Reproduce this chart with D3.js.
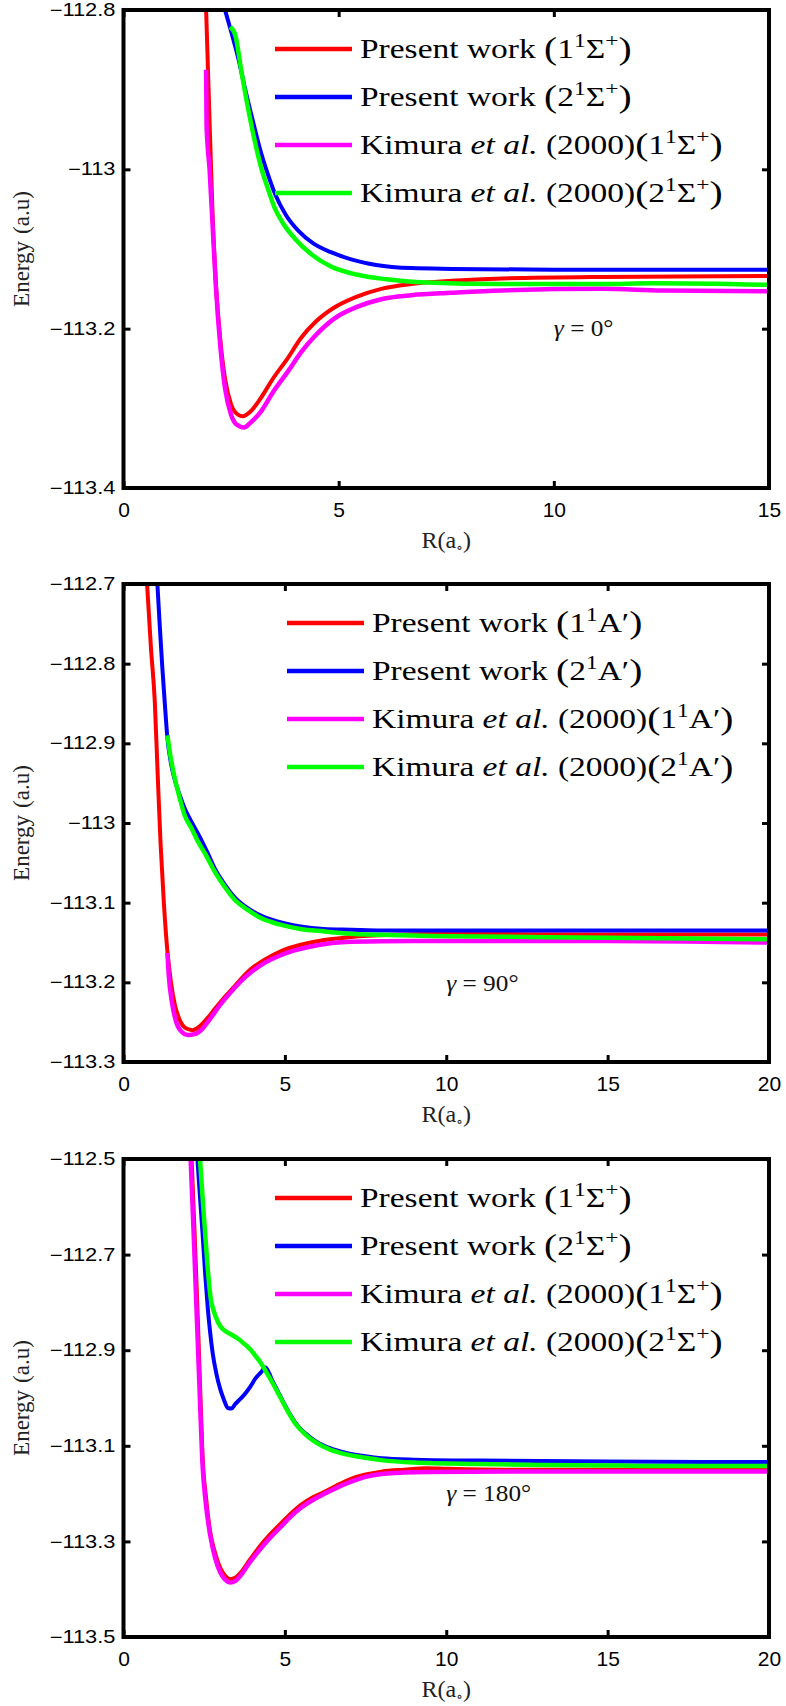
<!DOCTYPE html>
<html>
<head>
<meta charset="utf-8">
<script src="https://cdn.jsdelivr.net/npm/d3@7"></script>
<style>
  html, body { margin: 0; padding: 0; background: #fff; }
  svg { display: block; }
  .serif { font-family: "Liberation Serif", "Times New Roman", "DejaVu Serif", serif; }
  .sans { font-family: "Liberation Sans", Arial, "DejaVu Sans", sans-serif; }
</style>
</head>
<body>
<svg id="chart" width="786" height="1706"></svg>
<script>
// ---------- potential energy curves, [R (a.u.), E (a.u.)] ----------
// gamma = 0 deg
const g0Present1 = [[1.92,-112.80],[1.99,-112.922],[2.07,-113.057],[2.15,-113.146],[2.25,-113.214],[2.36,-113.263],[2.50,-113.295],[2.66,-113.308],[2.77,-113.310],[2.95,-113.304],[3.18,-113.288],[3.47,-113.263],[3.83,-113.236],[4.12,-113.212],[4.47,-113.191],[4.88,-113.174],[5.41,-113.160],[5.99,-113.150],[6.69,-113.144],[7.63,-113.140],[8.80,-113.137],[11.14,-113.135],[15,-113.134]];
const g0Present2 = [[2.36,-112.80],[2.48,-112.823],[2.66,-112.859],[2.83,-112.900],[3.01,-112.940],[3.18,-112.976],[3.36,-113.007],[3.53,-113.032],[3.77,-113.057],[4.06,-113.077],[4.41,-113.093],[4.82,-113.104],[5.29,-113.113],[5.87,-113.120],[6.69,-113.124],[7.63,-113.125],[10,-113.126],[15,-113.126]];
const g0Kimura1 = [[1.92,-112.875],[1.93,-112.945],[2.00,-113.000],[2.07,-113.070],[2.15,-113.150],[2.25,-113.222],[2.36,-113.275],[2.50,-113.308],[2.62,-113.320],[2.80,-113.324],[2.95,-113.318],[3.18,-113.305],[3.47,-113.280],[3.83,-113.253],[4.12,-113.230],[4.47,-113.208],[4.88,-113.188],[5.41,-113.173],[5.99,-113.163],[6.69,-113.158],[7.63,-113.155],[8.80,-113.152],[11.14,-113.150],[12.5,-113.152],[15,-113.153]];
const g0Kimura2 = [[2.48,-112.821],[2.60,-112.832],[2.74,-112.877],[2.89,-112.922],[3.04,-112.962],[3.18,-112.994],[3.36,-113.025],[3.51,-113.048],[3.71,-113.068],[4.00,-113.088],[4.35,-113.106],[4.82,-113.122],[5.41,-113.132],[6.11,-113.138],[7.04,-113.142],[8.80,-113.144],[11.14,-113.144],[12.3,-113.143],[15,-113.145]];

// gamma = 90 deg
const g90Present1 = [[0.73,-112.70],[0.85,-112.78],[0.97,-112.848],[1.06,-112.94],[1.15,-113.027],[1.25,-113.10],[1.36,-113.161],[1.47,-113.20],[1.59,-113.228],[1.75,-113.248],[1.95,-113.258],[2.14,-113.260],[2.37,-113.255],[2.60,-113.245],[2.84,-113.233],[3.15,-113.218],[3.46,-113.204],[3.93,-113.184],[4.40,-113.171],[4.87,-113.161],[5.30,-113.155],[5.80,-113.150],[6.40,-113.146],[7.05,-113.143],[8.60,-113.140],[10,-113.139],[15,-113.140],[20,-113.140]];
const g90Present2 = [[1.05,-112.70],[1.12,-112.75],[1.20,-112.803],[1.28,-112.85],[1.36,-112.893],[1.47,-112.925],[1.59,-112.946],[1.75,-112.966],[1.90,-112.982],[2.10,-112.998],[2.37,-113.018],[2.60,-113.037],[2.84,-113.058],[3.15,-113.078],[3.46,-113.094],[3.85,-113.107],[4.24,-113.116],[4.80,-113.124],[5.49,-113.130],[6.20,-113.133],[7.05,-113.134],[8,-113.135],[20,-113.135]];
const g90Kimura1 = [[1.36,-113.163],[1.40,-113.190],[1.50,-113.225],[1.62,-113.248],[1.80,-113.262],[2.00,-113.266],[2.20,-113.265],[2.45,-113.258],[2.68,-113.246],[3.00,-113.228],[3.31,-113.213],[3.60,-113.200],[3.93,-113.188],[4.40,-113.175],[4.87,-113.166],[5.30,-113.160],[5.80,-113.155],[6.40,-113.151],[7.05,-113.149],[9,-113.148],[12,-113.148],[15,-113.148],[18,-113.149],[20,-113.150]];
const g90Kimura2 = [[1.36,-112.890],[1.45,-112.915],[1.59,-112.944],[1.75,-112.970],[1.90,-112.991],[2.10,-113.006],[2.29,-113.022],[2.55,-113.040],[2.84,-113.062],[3.15,-113.081],[3.46,-113.097],[3.85,-113.109],[4.24,-113.119],[4.80,-113.127],[5.49,-113.133],[6.20,-113.136],[7.05,-113.139],[8.60,-113.141],[10,-113.142],[15,-113.144],[20,-113.146]];

// gamma = 180 deg
const g180Present1 = [[2.11,-112.50],[2.20,-112.65],[2.29,-112.811],[2.37,-112.97],[2.45,-113.123],[2.56,-113.21],[2.68,-113.278],[2.84,-113.325],[3.00,-113.356],[3.15,-113.372],[3.31,-113.379],[3.46,-113.376],[3.62,-113.366],[3.90,-113.340],[4.24,-113.309],[4.55,-113.285],[4.87,-113.263],[5.18,-113.242],[5.49,-113.224],[5.80,-113.210],[6.12,-113.200],[6.60,-113.183],[7.05,-113.169],[7.50,-113.160],[7.99,-113.154],[8.70,-113.150],[9.39,-113.147],[10,-113.148],[12,-113.150],[15,-113.150],[20,-113.150]];
const g180Present2 = [[2.29,-112.50],[2.37,-112.58],[2.45,-112.656],[2.53,-112.74],[2.61,-112.811],[2.68,-112.86],[2.76,-112.905],[2.88,-112.95],[3.00,-112.982],[3.12,-113.005],[3.23,-113.021],[3.34,-113.022],[3.46,-113.013],[3.62,-113.002],[3.78,-112.990],[3.94,-112.975],[4.09,-112.959],[4.25,-112.947],[4.40,-112.936],[4.60,-112.962],[4.87,-112.998],[5.10,-113.027],[5.34,-113.053],[5.65,-113.075],[5.96,-113.091],[6.40,-113.105],[6.90,-113.115],[7.50,-113.122],[7.99,-113.126],[9,-113.129],[11,-113.131],[15,-113.133],[20,-113.134]];
const g180Kimura1 = [[2.08,-112.50],[2.17,-112.65],[2.26,-112.811],[2.35,-112.97],[2.44,-113.13],[2.55,-113.22],[2.68,-113.285],[2.84,-113.335],[3.00,-113.365],[3.15,-113.380],[3.31,-113.386],[3.46,-113.383],[3.62,-113.372],[3.90,-113.345],[4.24,-113.316],[4.55,-113.292],[4.87,-113.270],[5.18,-113.248],[5.49,-113.230],[5.80,-113.216],[6.12,-113.204],[6.60,-113.188],[7.05,-113.175],[7.50,-113.165],[7.99,-113.159],[8.70,-113.156],[9.39,-113.155],[12,-113.154],[15,-113.154],[20,-113.154]];
const g180Kimura2 = [[2.37,-112.50],[2.45,-112.58],[2.53,-112.656],[2.60,-112.72],[2.68,-112.780],[2.72,-112.800],[2.76,-112.810],[2.84,-112.827],[2.92,-112.840],[3.00,-112.850],[3.15,-112.860],[3.31,-112.866],[3.55,-112.876],[3.78,-112.889],[3.94,-112.899],[4.09,-112.912],[4.25,-112.926],[4.40,-112.943],[4.60,-112.966],[4.87,-113.000],[5.10,-113.029],[5.34,-113.055],[5.65,-113.077],[5.96,-113.093],[6.40,-113.108],[6.90,-113.118],[7.50,-113.125],[7.99,-113.130],[9,-113.135],[11,-113.138],[13,-113.140],[15,-113.141],[16,-113.142],[20,-113.142]];

// ---------- axes ----------
const xTicks15 = [0, 5, 10, 15];
const xTicks20 = [0, 5, 10, 15, 20];
const yTicksG0 = [-113.4, -113.2, -113, -112.8];
const yTicksG90 = [-113.3, -113.2, -113.1, -113, -112.9, -112.8, -112.7];
const yTicksG180 = [-113.5, -113.3, -113.1, -112.9, -112.7, -112.5];

// ---------- legend / annotation text ----------
const stateSigma = n => [{t: "("}, {t: n}, {t: "1", sup: true}, {t: "Σ"}, {t: "+", sup: true}, {t: ")"}];
const stateA = n => [{t: "("}, {t: n}, {t: "1", sup: true}, {t: "A′"}, {t: ")"}];
const legendSigma = [
  [{t: "Present work\u00A0"}, ...stateSigma("1")],
  [{t: "Present work\u00A0"}, ...stateSigma("2")],
  [{t: "Kimura\u00A0"}, {t: "et al.", it: true}, {t: "\u00A0(2000)"}, ...stateSigma("1")],
  [{t: "Kimura\u00A0"}, {t: "et al.", it: true}, {t: "\u00A0(2000)"}, ...stateSigma("2")]
];
const legendA = [
  [{t: "Present work\u00A0"}, ...stateA("1")],
  [{t: "Present work\u00A0"}, ...stateA("2")],
  [{t: "Kimura\u00A0"}, {t: "et al.", it: true}, {t: "\u00A0(2000)"}, ...stateA("1")],
  [{t: "Kimura\u00A0"}, {t: "et al.", it: true}, {t: "\u00A0(2000)"}, ...stateA("2")]
];
const seriesColors = ["#ff0000", "#0000ff", "#ff00ff", "#00ff00"];
const gammaLabels = ["0°", "90°", "180°"];

// ---------- panel table ----------
const panels = [
  {top: 10,   xDomain: [0, 15], yDomain: [-113.4, -112.8], xTicks: xTicks15, yTicks: yTicksG0,
   series: [g0Present1, g0Present2, g0Kimura1, g0Kimura2], legend: legendSigma, legendX: 275,
   gamma: gammaLabels[0], gammaAt: [10.0, -113.209]},
  {top: 584,  xDomain: [0, 20], yDomain: [-113.3, -112.7], xTicks: xTicks20, yTicks: yTicksG90,
   series: [g90Present1, g90Present2, g90Kimura1, g90Kimura2], legend: legendA, legendX: 287,
   gamma: gammaLabels[1], gammaAt: [10.0, -113.211]},
  {top: 1159, xDomain: [0, 20], yDomain: [-113.5, -112.5], xTicks: xTicks20, yTicks: yTicksG180,
   series: [g180Present1, g180Present2, g180Kimura1, g180Kimura2], legend: legendSigma, legendX: 275,
   gamma: gammaLabels[2], gammaAt: [10.0, -113.215]}
];

const L = 123.5, R = 769, H = 478;
const svg = d3.select("#chart");

function richText(textSel, parts, size) {
  let shift = 0;
  parts.forEach(p => {
    const ts = textSel.append("tspan").text(p.t);
    let target = 0;
    if (p.sup) { ts.attr("font-size", size * 0.7); target = -size * 0.42; }
    else if (p.t === "(" || p.t === ")") { ts.attr("font-size", size * 1.18); target = size * 0.04; }
    if (p.it) ts.attr("font-style", "italic");
    ts.attr("dy", target - shift);
    shift = target;
  });
}

const fmtTick = d => (d < 0 ? "\u2212" : "") + String(Math.abs(d));

panels.forEach((p, i) => {
  const top = p.top, bottom = top + H;
  const x = d3.scaleLinear().domain(p.xDomain).range([L, R]);
  const y = d3.scaleLinear().domain(p.yDomain).range([bottom, top]);
  const g = svg.append("g");

  const clipId = "clip" + i;
  svg.append("clipPath").attr("id", clipId)
    .append("rect").attr("x", L).attr("y", top).attr("width", R - L).attr("height", H);

  const line = d3.line().x(d => x(d[0])).y(d => y(d[1])).curve(d3.curveMonotoneX);
  g.append("g").attr("clip-path", `url(#${clipId})`)
    .selectAll("path").data(p.series).join("path")
    .attr("d", line)
    .attr("fill", "none")
    .attr("stroke", (d, k) => seriesColors[k])
    .attr("stroke-width", (d, k) => k >= 2 ? 4.5 : 4)
    .attr("stroke-linejoin", "round");

  // inward ticks on all four sides
  const tk = 7;
  const axB = g.append("g").attr("transform", `translate(0,${bottom})`)
    .call(d3.axisBottom(x).tickValues(p.xTicks).tickSizeInner(-tk).tickSizeOuter(0).tickPadding(10).tickFormat(d3.format("d")));
  const axT = g.append("g").attr("transform", `translate(0,${top})`)
    .call(d3.axisTop(x).tickValues(p.xTicks).tickSizeInner(-tk).tickSizeOuter(0).tickFormat(""));
  const axL = g.append("g").attr("transform", `translate(${L},0)`)
    .call(d3.axisLeft(y).tickValues(p.yTicks).tickSizeInner(-tk).tickSizeOuter(0).tickPadding(6.4).tickFormat(fmtTick));
  const axR = g.append("g").attr("transform", `translate(${R},0)`)
    .call(d3.axisRight(y).tickValues(p.yTicks).tickSizeInner(-tk).tickSizeOuter(0).tickFormat(""));
  [axB, axT, axL, axR].forEach(a => {
    a.select(".domain").remove();
    a.attr("font-family", null);
    a.selectAll(".tick line").attr("stroke", "#000").attr("stroke-width", 3);
  });
  axB.selectAll(".tick text").attr("class", "sans").attr("font-size", 21).attr("fill", "#000")
    .attr("dy", null).attr("y", 29);
  axL.selectAll(".tick text").attr("class", "sans").attr("font-size", 17.5).attr("fill", "#000")
    .attr("transform", "scale(1.25,1)");

  // frame
  g.append("rect").attr("x", L).attr("y", top).attr("width", R - L).attr("height", H)
    .attr("fill", "none").attr("stroke", "#000").attr("stroke-width", 4);

  // legend
  const lg = g.append("g");
  p.legend.forEach((parts, k) => {
    const ly = top + 39 + 48 * k;
    lg.append("line").attr("x1", p.legendX).attr("x2", p.legendX + 77)
      .attr("y1", ly).attr("y2", ly).attr("stroke", seriesColors[k]).attr("stroke-width", 4.5);
    const t = lg.append("text").attr("class", "serif")
      .attr("transform", `translate(${p.legendX + 85},${ly + 9}) scale(1.24,1)`)
      .attr("font-size", 27).attr("fill", "#000");
    richText(t, parts, 27);
  });

  // angle annotation
  const gt = g.append("text").attr("class", "serif")
    .attr("transform", `translate(${x(p.gammaAt[0])},${y(p.gammaAt[1])}) scale(1.1,1)`)
    .attr("font-size", 23).attr("fill", "#111");
  gt.append("tspan").attr("font-style", "italic").text("γ");
  gt.append("tspan").text("\u2005=\u2005" + p.gamma);

  // axis titles
  const yl = g.append("text").attr("class", "serif")
    .attr("transform", `translate(29,${(top + bottom) / 2}) rotate(-90)`)
    .attr("text-anchor", "middle").attr("font-size", 23).attr("fill", "#222");
  yl.append("tspan").text("Energy");
  yl.append("tspan").attr("dx", 7).text("(a.u)");

  const xl = g.append("text").attr("class", "serif")
    .attr("x", (L + R) / 2).attr("y", bottom + 60)
    .attr("text-anchor", "middle").attr("font-size", 24).attr("fill", "#222");
  xl.append("tspan").text("R(a");
  xl.append("tspan").attr("font-size", 14).attr("dy", 4).text("∘");
  xl.append("tspan").attr("dy", -4).text(")");
});
</script>
</body>
</html>
